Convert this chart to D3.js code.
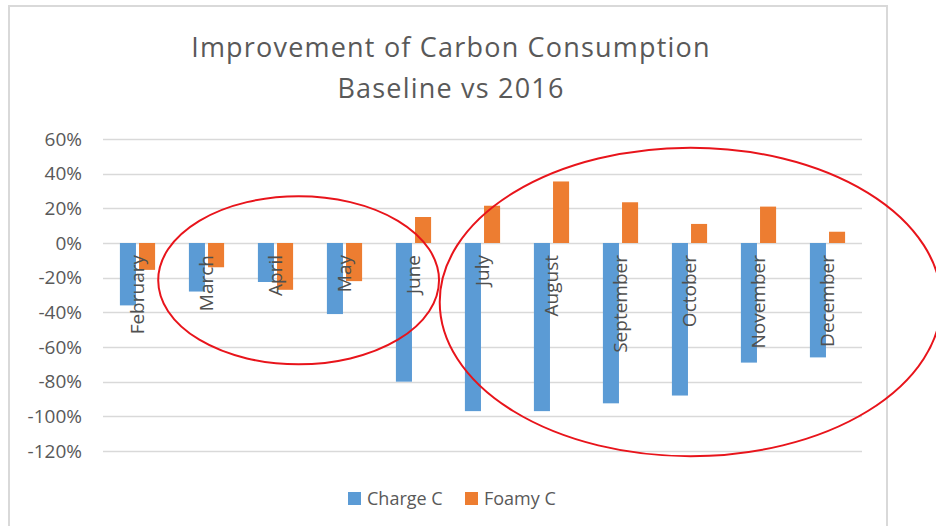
<!DOCTYPE html>
<html>
<head>
<meta charset="utf-8">
<script src="https://cdn.jsdelivr.net/npm/d3@7"></script>
<style>
  body { margin: 0; background: #fff; }
  text { font-family: "Open Sans", "Noto Sans", sans-serif; fill: #595959; }
</style>
</head>
<body>
<svg id="chart" width="936" height="526"></svg>
<script>
// chart data
const months = ["February", "March", "April", "May", "June", "July", "August",
                "September", "October", "November", "December"];
const chargeC = [-0.36, -0.28, -0.225, -0.41, -0.80, -0.97, -0.97, -0.925, -0.88, -0.69, -0.66];
const foamyC = [-0.155, -0.14, -0.27, -0.22, 0.15, 0.215, 0.355, 0.235, 0.11, 0.21, 0.065];
const seriesNames = ["Charge C", "Foamy C"];
const seriesColors = ["#5B9BD5", "#ED7D31"];
const yTicks = [0.6, 0.4, 0.2, 0, -0.2, -0.4, -0.6, -0.8, -1.0, -1.2];
const titleLines = ["Improvement of Carbon Consumption", "Baseline vs 2016"];

// hand drawn red circles, in category-index / value units
const circles = [
    { from: 0.8, to: 4.87, top: 0.27, bottom: -0.70 },
    { from: 4.88, to: 12.15, top: 0.55, bottom: -1.23 }
];

const width = 936, height = 526;
const margin = { top: 139, right: 74, bottom: 75, left: 103 };

const svg = d3.select('#chart');

svg.append('rect')
    .attr('x', 9).attr('y', 6)
    .attr('width', 878).attr('height', 540)
    .attr('fill', '#fff')
    .attr('stroke', '#D9D9D9')
    .attr('stroke-width', 2);

const x0 = d3.scaleBand()
    .domain(months)
    .range([margin.left, width - margin.right])
    .paddingInner(0.49)
    .paddingOuter(0.245);

const x1 = d3.scaleBand()
    .domain(seriesNames)
    .range([0, x0.bandwidth()])
    .paddingInner(0.16);

const xi = d3.scaleLinear()
    .domain([0, months.length])
    .range([margin.left, width - margin.right]);

const y = d3.scaleLinear()
    .domain([-1.2, 0.6])
    .range([451, margin.top]);

const locale = d3.formatLocale({ decimal: '.', thousands: ',', grouping: [3], currency: ['$', ''], minus: '-' });
const fmt = locale.format('.0%');

// gridlines
svg.append('g')
    .selectAll('line')
    .data(yTicks)
    .enter().append('line')
    .attr('x1', margin.left)
    .attr('x2', width - margin.right)
    .attr('y1', d => Math.round(y(d)) + 0.5)
    .attr('y2', d => Math.round(y(d)) + 0.5)
    .attr('stroke', '#D9D9D9')
    .attr('stroke-width', 1.3);

// y axis labels
svg.append('g')
    .selectAll('text')
    .data(yTicks)
    .enter().append('text')
    .attr('x', 82)
    .attr('y', d => y(d))
    .attr('dy', '0.35em')
    .attr('text-anchor', 'end')
    .style('font-size', '19px')
    .text(d => fmt(d));

// bars
const rows = months.map((m, i) => ({ month: m, values: [chargeC[i], foamyC[i]] }));

const groups = svg.append('g')
    .selectAll('g')
    .data(rows)
    .enter().append('g')
    .attr('transform', d => `translate(${x0(d.month)},0)`);

groups.selectAll('rect')
    .data(d => d.values.map((v, k) => ({ key: seriesNames[k], value: v, color: seriesColors[k] })))
    .enter().append('rect')
    .attr('x', d => x1(d.key))
    .attr('y', d => y(Math.max(0, d.value)))
    .attr('width', x1.bandwidth())
    .attr('height', d => Math.abs(y(d.value) - y(0)))
    .attr('fill', d => d.color);

// category labels, rotated, hanging under the zero line
svg.append('g')
    .selectAll('text')
    .data(months)
    .enter().append('text')
    .attr('transform', d => `translate(${x0(d) + x0.bandwidth() / 2},${y(0) + 12}) rotate(-90)`)
    .attr('dy', '0.35em')
    .attr('text-anchor', 'end')
    .style('font-size', '19px')
    .style('fill', '#505050')
    .text(d => d);

// title
svg.append('g')
    .selectAll('text')
    .data(titleLines)
    .enter().append('text')
    .attr('x', 451)
    .attr('y', (d, i) => 57 + i * 41)
    .attr('text-anchor', 'middle')
    .style('font-size', '27px')
    .style('letter-spacing', '1.2px')
    .text(d => d);

// legend
const legend = svg.append('g')
    .selectAll('g')
    .data(seriesNames)
    .enter().append('g')
    .attr('transform', (d, i) => `translate(${348 + i * 117},492)`);

legend.append('rect')
    .attr('width', 13).attr('height', 13)
    .attr('fill', (d, i) => seriesColors[i]);

legend.append('text')
    .attr('x', 19)
    .attr('y', 7)
    .attr('dy', '0.35em')
    .style('font-size', '18px')
    .text(d => d);

// red annotation ellipses
svg.append('g')
    .selectAll('ellipse')
    .data(circles)
    .enter().append('ellipse')
    .attr('cx', d => (xi(d.from) + xi(d.to)) / 2)
    .attr('cy', d => (y(d.top) + y(d.bottom)) / 2)
    .attr('rx', d => (xi(d.to) - xi(d.from)) / 2)
    .attr('ry', d => (y(d.bottom) - y(d.top)) / 2)
    .attr('fill', 'none')
    .attr('stroke', '#E8141B')
    .attr('stroke-width', 2);
</script>
</body>
</html>
